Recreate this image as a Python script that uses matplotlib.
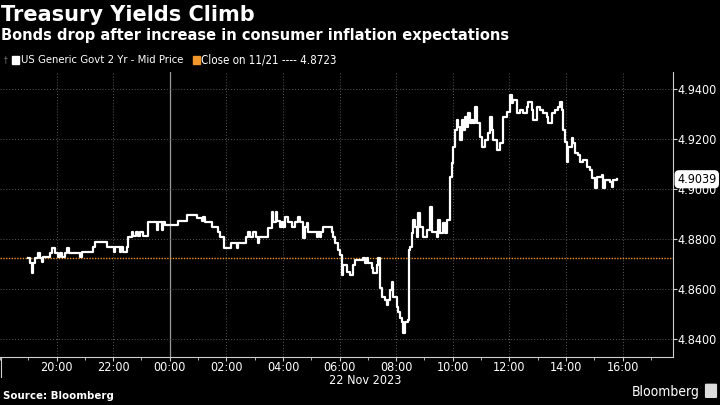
import matplotlib
matplotlib.use('Agg')
import matplotlib.pyplot as plt
import matplotlib.dates as mdates
from matplotlib import patches
from matplotlib.lines import Line2D
import pandas as pd
import numpy as np

# minutes after 18:00 on 21 Nov 2023, and the 2 yr yield at that time
minutes = [59, 64, 68, 70, 74, 81, 85, 89, 91, 106, 110, 117, 123, 127, 131, 138, 142, 146,
           170, 174, 197, 201, 227, 242, 244, 254, 257, 261, 269, 271, 280, 282, 288, 293,
           297, 303, 314, 333, 335, 343, 346, 350, 377, 396, 418, 428, 430, 435, 449, 462,
           466, 475, 490, 502, 505, 522, 526, 530, 536, 543, 547, 549, 568, 577, 579, 585,
           587, 594, 598, 600, 604, 611, 619, 625, 632, 636, 642, 647, 651, 653, 672, 674,
           678, 681, 685, 704, 706, 710, 717, 721, 725, 727, 736, 742, 748, 753, 770, 774,
           778, 780, 789, 791, 799, 801, 806, 810, 816, 820, 823, 827, 831, 833, 842, 844,
           848, 852, 854, 859, 865, 867, 869, 873, 876, 880, 884, 886, 890, 897, 905, 912,
           916, 926, 929, 933, 939, 943, 948, 954, 958, 960, 965, 969, 971, 975, 979, 982,
           986, 990, 992, 996, 1001, 1003, 1007, 1011, 1018, 1022, 1028, 1035, 1039, 1043,
           1045, 1054, 1060, 1066, 1075, 1081, 1085, 1088, 1096, 1102, 1109, 1117, 1119,
           1128, 1130, 1138, 1145, 1151, 1160, 1162, 1170, 1177, 1183, 1187, 1191, 1194,
           1198, 1202, 1204, 1213, 1215, 1219, 1225, 1230, 1236, 1244, 1251, 1255, 1261,
           1266, 1276, 1278, 1283, 1293, 1297, 1300, 1308]
yields = [4.8724, 4.8704, 4.8664, 4.8704, 4.8724, 4.8744, 4.8724, 4.8708, 4.8728, 4.8744,
          4.8764, 4.8744, 4.8728, 4.8744, 4.8728, 4.8744, 4.8764, 4.8744, 4.8728, 4.8748,
          4.8768, 4.8788, 4.8768, 4.8748, 4.8768, 4.8748, 4.8768, 4.8748, 4.8768, 4.8808,
          4.8828, 4.8812, 4.8828, 4.8812, 4.8828, 4.8812, 4.8868, 4.8836, 4.8868, 4.8836,
          4.8868, 4.8856, 4.8872, 4.8896, 4.8884, 4.8872, 4.8888, 4.8868, 4.8848, 4.8828,
          4.8808, 4.8764, 4.8784, 4.8764, 4.8784, 4.8808, 4.8828, 4.8808, 4.8828, 4.8808,
          4.8784, 4.8808, 4.8844, 4.8908, 4.8868, 4.8908, 4.8872, 4.8848, 4.8868, 4.8848,
          4.8888, 4.8868, 4.8848, 4.8868, 4.8888, 4.8868, 4.8804, 4.8848, 4.8864, 4.8828,
          4.8808, 4.8828, 4.8808, 4.8828, 4.8848, 4.8828, 4.8808, 4.8784, 4.8756, 4.8736,
          4.8656, 4.8696, 4.8668, 4.8656, 4.8696, 4.8716, 4.8724, 4.8704, 4.8724, 4.8704,
          4.8684, 4.8664, 4.8696, 4.8724, 4.8604, 4.8568, 4.8556, 4.8536, 4.8556, 4.8596,
          4.8628, 4.8568, 4.8528, 4.8508, 4.8484, 4.8468, 4.8424, 4.8468, 4.8476, 4.8756,
          4.8768, 4.8824, 4.8876, 4.8848, 4.8808, 4.8904, 4.8848, 4.8808, 4.8836, 4.8928,
          4.8828, 4.8808, 4.8876, 4.8824, 4.8864, 4.8824, 4.8876, 4.9048, 4.9104, 4.9168,
          4.9236, 4.9276, 4.9248, 4.9196, 4.9276, 4.9236, 4.9288, 4.9248, 4.9304, 4.9264,
          4.9276, 4.9264, 4.9328, 4.9264, 4.9208, 4.9168, 4.9196, 4.9224, 4.9288, 4.9236,
          4.9196, 4.9156, 4.9184, 4.9288, 4.9308, 4.9376, 4.9344, 4.9356, 4.9304, 4.9316,
          4.9304, 4.9328, 4.9348, 4.9316, 4.9276, 4.9328, 4.9316, 4.9304, 4.9288, 4.9264,
          4.9304, 4.9316, 4.9328, 4.9348, 4.9316, 4.9236, 4.9188, 4.9108, 4.9168, 4.9204,
          4.9184, 4.9144, 4.9136, 4.9108, 4.9116, 4.9088, 4.9076, 4.9044, 4.9004, 4.9048,
          4.9056, 4.9004, 4.9036, 4.9028, 4.9008, 4.9036, 4.9039]

prev_close = 4.8723
last_value = 4.9039
y_ticks = [4.84, 4.86, 4.88, 4.90, 4.92, 4.94]

start = pd.Timestamp('2023-11-21 18:00')
times = start + pd.to_timedelta(minutes, unit='m')
x_ticks = pd.date_range('2023-11-21 20:00', '2023-11-22 16:00', freq='2h')

BG = '#000000'
GRID = '#5a5a5a'
ORANGE = '#f0962a'
plt.rcParams['font.family'] = ['DejaVu Sans']
plt.rcParams['font.stretch'] = 'condensed'

fig = plt.figure(figsize=(7.2, 4.05), dpi=100, facecolor=BG)
ax = fig.add_axes([0.0, 0.1185, 0.9347, 0.7037], facecolor=BG)

ax.plot(times, yields, color='white', lw=1.6, drawstyle='steps-post', zorder=3)
ax.axhline(prev_close, color=ORANGE, lw=1.0, ls=(0, (1, 1)), zorder=2)

ax.set_xlim(start, start + pd.Timedelta(minutes=1427))
ax.set_ylim(4.8328, 4.9468)

# grid
for t in x_ticks:
    if t.hour == 0:
        ax.axvline(t, color='#9a9a9a', lw=0.9, zorder=1)
    else:
        ax.axvline(t, color=GRID, lw=0.7, ls=(0, (1, 2)), zorder=1)
for v in y_ticks:
    ax.axhline(v, color=GRID, lw=0.7, ls=(0, (1, 2)), zorder=1)

ax.set_xticks(x_ticks)
ax.xaxis.set_minor_locator(mdates.HourLocator())
ax.xaxis.set_major_formatter(mdates.DateFormatter('%H:%M'))
ax.yaxis.tick_right()
ax.set_yticks(y_ticks)
ax.set_yticklabels(['%.4f' % v for v in y_ticks])

ax.tick_params(axis='x', which='major', colors='#cfcfcf', labelcolor='white', length=3, width=0.8,
               labelsize=9, pad=0)
ax.tick_params(axis='x', which='minor', colors='#cfcfcf', length=2, width=0.6)
ax.tick_params(axis='y', colors='#cfcfcf', labelcolor='white', length=3, width=0.8,
               labelsize=9, pad=0.5)

for side in ['top', 'left']:
    ax.spines[side].set_visible(False)
ax.spines['right'].set_color('#cfcfcf')
ax.spines['bottom'].set_color('#cfcfcf')

# short divider at the left end of the time axis
fig.lines.append(Line2D([0.001, 0.001], [0.07, 0.1185], transform=fig.transFigure,
                        color='#cfcfcf', lw=0.8))

# last value tag
ax.annotate('%.4f' % last_value, xy=(1.0, last_value), xycoords=('axes fraction', 'data'),
            xytext=(3, 0), textcoords='offset points', ha='left', va='center',
            fontsize=9, color='black',
            bbox=dict(boxstyle='round,pad=0.15,rounding_size=0.3', fc='white', ec='white'),
            zorder=5, annotation_clip=False)

fig.text(0.5078, 0.061, '22 Nov 2023', color='white', fontsize=9, ha='center', va='center')

# titles
fig.text(0.002, 0.964, 'Treasury Yields Climb', color='white', fontsize=15, fontweight='bold',
         stretch='normal', ha='left', va='center')
fig.text(0.002, 0.913, 'Bonds drop after increase in consumer inflation expectations',
         color='white', fontsize=10.5, fontweight='bold', stretch='normal', ha='left', va='center')

# legend
fig.text(0.006, 0.852, '\u2020', color='#777777', fontsize=6, ha='left', va='center')
fig.patches.append(patches.Rectangle((0.0167, 0.843), 0.0095, 0.019, transform=fig.transFigure,
                                     color='white'))
fig.text(0.0285, 0.852, 'US Generic Govt 2 Yr - Mid Price', color='white', fontsize=8.1,
         ha='left', va='center')
fig.patches.append(patches.Rectangle((0.2685, 0.843), 0.0095, 0.019, transform=fig.transFigure,
                                     color=ORANGE))
fig.text(0.2795, 0.852, 'Close on 11/21 ---- 4.8723', color='white', fontsize=8.3,
         ha='left', va='center')

fig.text(0.004, 0.022, 'Source: Bloomberg', color='white', fontsize=8.2, fontweight='bold',
         ha='left', va='center')
fig.text(0.972, 0.032, 'Bloomberg', color='white', fontsize=10, ha='right', va='center')
fig.patches.append(patches.FancyBboxPatch((0.981, 0.02), 0.013, 0.03,
                                          boxstyle='round,pad=0.001', transform=fig.transFigure,
                                          color='#dddddd'))

fig.savefig('out.png', dpi=100, facecolor=BG)
